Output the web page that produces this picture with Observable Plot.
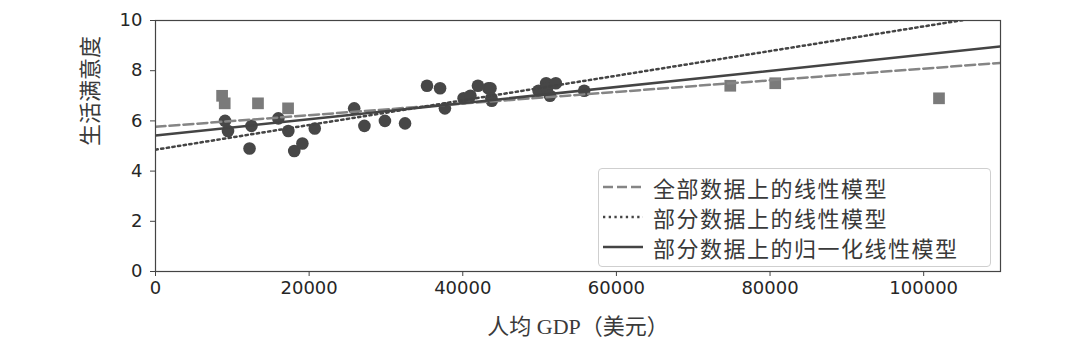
<!DOCTYPE html>
<html>
<head>
<meta charset="utf-8">
<script src="https://cdn.jsdelivr.net/npm/d3@7"></script>
<script src="https://cdn.jsdelivr.net/npm/@observablehq/plot@0.6"></script>
<style>
  html, body { margin: 0; padding: 0; background: #fff; }
  #wrap { position: relative; width: 1080px; height: 362px; }
  #legend {
    position: absolute; left: 598px; top: 168px; width: 393px; height: 99px;
    box-sizing: border-box; border: 1px solid #cfcfcf; border-radius: 4px;
    background: rgba(255,255,255,0.85);
    font-family: "Noto Sans CJK SC", sans-serif; font-size: 22px; color: #3a3a3a;
  }
  .row { position: absolute; left: 0; height: 30px; display: flex; align-items: center; }
  .row svg { margin-left: 4px; margin-right: 10px; }
  .row span { letter-spacing: 1.5px; }
</style>
</head>
<body>
<div id="wrap"></div>
<script>
// Sample data (circles): GDP per capita (USD), life satisfaction
const sampleGdp = [9054, 9437, 12240, 12495, 15992, 17288, 18064, 19122, 20732, 25865,
                   27195, 29867, 32486, 35343, 37045, 37675, 40107, 40997, 41974, 43332,
                   43603, 43724, 43771, 49866, 50855, 50962, 51351, 52114, 55805];
const sampleSat = [6.0, 5.6, 4.9, 5.8, 6.1, 5.6, 4.8, 5.1, 5.7, 6.5,
                   5.8, 6.0, 5.9, 7.4, 7.3, 6.5, 6.9, 7.0, 7.4, 7.3,
                   7.3, 6.9, 6.8, 7.2, 7.5, 7.3, 7.0, 7.5, 7.2];
// Left-out data (squares)
const missingGdp = [8670, 9009, 13341, 17257, 74822, 80675, 101994];
const missingSat = [7.0, 6.7, 6.7, 6.5, 7.4, 7.5, 6.9];

// Linear models: intercept and slope
const modelNames = ["全部数据上的线性模型", "部分数据上的线性模型", "部分数据上的归一化线性模型"];
const modelIntercepts = [5.763, 4.853, 5.42];
const modelSlopes = [2.318e-5, 4.912e-5, 3.22e-5];

const xTicks = [0, 20000, 40000, 60000, 80000, 100000];
const yTicks = [0, 2, 4, 6, 8, 10];
const xDomain = [0, 110000];
const yDomain = [0, 10];
const xLabel = "人均 GDP（美元）";
const yLabel = "生活满意度";

const sample = sampleGdp.map((g, i) => ({gdp: g, sat: sampleSat[i]}));
const missing = missingGdp.map((g, i) => ({gdp: g, sat: missingSat[i]}));
const lineOf = (k) => xDomain.map(x => ({gdp: x, sat: modelIntercepts[k] + modelSlopes[k] * x}));

const lineStyles = [
  {stroke: "#858585", strokeWidth: 2.5, strokeDasharray: "10,4"},
  {stroke: "#444", strokeWidth: 2.5, strokeDasharray: "2.3,3.4"},
  {stroke: "#444", strokeWidth: 2.5}
];

const plot = Plot.plot({
  width: 1080, height: 362,
  marginLeft: 155, marginRight: 80, marginTop: 20, marginBottom: 91,
  style: {fontFamily: "DejaVu Sans", fontSize: "18px", color: "#262626", background: "#fff"},
  x: {domain: xDomain},
  y: {domain: yDomain},
  marks: [
    Plot.dot(sample, {x: "gdp", y: "sat", r: 6.3, fill: "#474747", symbol: "circle"}),
    Plot.dot(missing, {x: "gdp", y: "sat", r: 6.6, fill: "#7a7a7a", symbol: "square"}),
    ...lineStyles.map((s, k) => Plot.line(lineOf(k), {x: "gdp", y: "sat", clip: true, ...s})),
    Plot.frame({stroke: "#444", strokeWidth: 1.2}),
    Plot.axisX({ticks: xTicks, tickFormat: d3.format("d"), tickSize: 5, tickPadding: 5, label: null, stroke: "#444"}),
    Plot.axisY({ticks: yTicks, tickFormat: d3.format("d"), tickSize: 5, tickPadding: 8, label: null, stroke: "#444"}),
    Plot.text([yLabel], {frameAnchor: "left", dx: -65, rotate: -90, fontSize: 22,
      fontFamily: "Noto Sans CJK SC", fill: "#3a3a3a", text: d => d}),
    Plot.text([xLabel], {frameAnchor: "bottom", dy: 62, fontSize: 22,
      fontFamily: "Liberation Serif, Noto Sans CJK SC", fill: "#3a3a3a", text: d => d})
  ]
});

const wrap = document.getElementById("wrap");
wrap.appendChild(plot);

// Legend
const legend = document.createElement("div");
legend.id = "legend";
modelNames.forEach((name, k) => {
  const row = document.createElement("div");
  row.className = "row";
  row.style.top = (3 + k * 30) + "px";
  const s = lineStyles[k];
  row.innerHTML = `<svg width="40" height="10"><line x1="0" x2="40" y1="5" y2="5" stroke="${s.stroke}" stroke-width="${s.strokeWidth}" ${s.strokeDasharray ? `stroke-dasharray="${s.strokeDasharray}"` : ""}/></svg><span>${name}</span>`;
  legend.appendChild(row);
});
wrap.appendChild(legend);
</script>
</body>
</html>
